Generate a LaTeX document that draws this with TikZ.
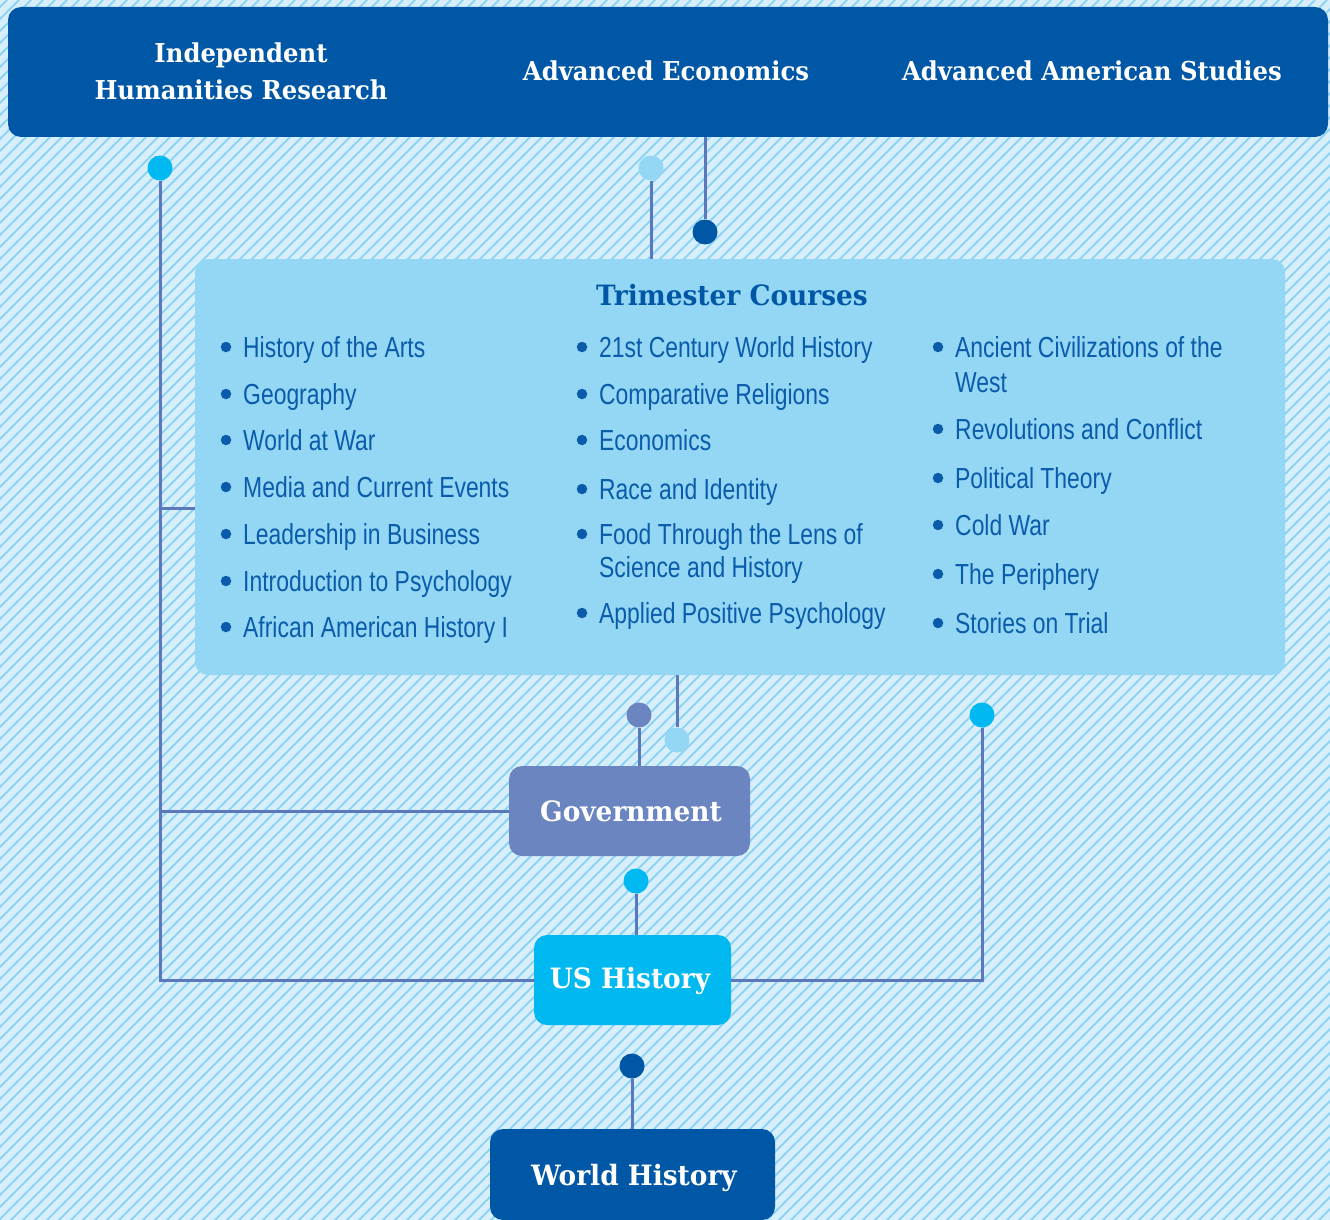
\documentclass[tikz,border=0pt]{standalone}
\usepackage{fontspec}
\newfontfamily\itemfont[FakeStretch=0.79]{Liberation Sans}
\newfontfamily\headfont[FakeStretch=0.935]{DejaVu Serif}
\newfontfamily\bigheadfont[FakeStretch=0.943]{DejaVu Serif}
\definecolor{bgc}{HTML}{D7EFFB}
\definecolor{hatch}{HTML}{8FD3F3}
\definecolor{dkblue}{HTML}{0057A6}
\definecolor{ltblue}{HTML}{93D7F5}
\definecolor{cyanb}{HTML}{00B9F0}
\definecolor{govc}{HTML}{6B85C1}
\definecolor{linec}{HTML}{5B78BD}
\definecolor{txtc}{HTML}{0A5BAA}
\tikzset{
  box/.style={rounded corners=13pt, inner sep=0pt},
  head/.style={font=\headfont\bfseries\fontsize{26}{37}\selectfont, text=white, align=center, inner sep=0pt},
  bighead/.style={head, font=\bigheadfont\bfseries\fontsize{28}{37}\selectfont},
  item/.style={font=\itemfont\fontsize{29}{35}\selectfont, text=txtc, inner sep=0pt, anchor=base west},
  dotn/.style={circle, minimum size=25pt, inner sep=0pt},
  conn/.style={draw=linec, line width=3pt},
  bul/.style={circle, fill=txtc, minimum size=10.5pt, inner sep=0pt}
}
\begin{document}
\begin{tikzpicture}[x=1pt,y=-1pt]
\useasboundingbox (0,0) rectangle (1330,1220);
\clip (0,0) rectangle (1330,1220);
\fill[bgc] (0,0) rectangle (1330,1220);
\foreach \i in {-1230,-1218,...,1340} \draw[hatch, line width=1.9pt] (\i,1225) -- (\i+1225,0);
% boxes
\node[box, fill=dkblue, minimum width=1320pt, minimum height=130pt] (top) at (668,72) {};
\node[head] (ihr) at (241,71) {Independent\\Humanities Research};
\node[head] (ae) at (666,71) {Advanced Economics};
\node[head] (aas) at (1092,71) {Advanced American Studies};
\node[box, fill=ltblue, minimum width=1090pt, minimum height=416pt] (tri) at (740,467) {};
\node[bighead, text=dkblue] (trit) at (732,295) {Trimester Courses};
\node[box, fill=govc, minimum width=241pt, minimum height=90pt] (gov) at (629.5,811) {};
\node[bighead] at (631,811) {Government};
\node[box, fill=cyanb, minimum width=197pt, minimum height=90pt] (us) at (632.5,980) {};
\node[bighead] at (630,981) {US History};
\node[box, fill=dkblue, minimum width=285pt, minimum height=91pt] (wh) at (632.5,1174.5) {};
\node[bighead] at (634,1178) {World History};
% dots
\node[dotn, fill=cyanb] (d1) at (160,168) {};
\node[dotn, fill=ltblue] (d2) at (651,168) {};
\node[dotn, fill=dkblue] (d3) at (705,232) {};
\node[dotn, fill=ltblue] (d4) at (677,740) {};
\node[dotn, fill=govc] (d5) at (639,715) {};
\node[dotn, fill=cyanb] (d6) at (982,715) {};
\node[dotn, fill=cyanb] (d7) at (636,881) {};
\node[dotn, fill=dkblue] (d8) at (632,1066) {};
\coordinate (jtri) at (160,508);
% connectors
\draw[conn] (d1.south) -- (d1 |- us.west) -- (us.west);
\draw[conn] (jtri) -- (jtri -| tri.west);
\draw[conn] (d1 |- gov.west) -- (gov.west);
\draw[conn] (d2.south) -- (d2 |- tri.north);
\draw[conn] (d3 |- top.south) -- (d3.north);
\draw[conn] (d4 |- tri.south) -- (d4.north);
\draw[conn] (d5.south) -- (d5 |- gov.north);
\draw[conn] (d6.south) -- (d6 |- us.east) -- (us.east);
\draw[conn] (d7.south) -- (d7 |- us.north);
\draw[conn] (d8.south) -- (d8 |- wh.north);
% column 1
\foreach \y/\t [count=\k] in {357/History of the Arts, 404/Geography, 450/World at War, 497/Media and Current Events, 544/Leadership in Business, 591/Introduction to Psychology, 637/African American History I}{
  \node[bul] (b1\k) at (226,\y-10) {};
  \node[item] (a1\k) at (243,\y) {\t};
}
% column 2
\foreach \y/\t [count=\k] in {357/21st Century World History, 404/Comparative Religions, 450/Economics, 499/Race and Identity, 544/Food Through the Lens of, 623/Applied Positive Psychology}{
  \node[bul] (b2\k) at (582,\y-10) {};
  \node[item] (a2\k) at (599,\y) {\t};
}
\node[item] (a2x) at (599,577) {Science and History};
% column 3
\foreach \y/\t [count=\k] in {357/Ancient Civilizations of the, 439/Revolutions and Conflict, 488/Political Theory, 535/Cold War, 584/The Periphery, 633/Stories on Trial}{
  \node[bul] (b3\k) at (938,\y-10) {};
  \node[item] (a3\k) at (955,\y) {\t};
}
\node[item] (a3x) at (955,392) {West};
\end{tikzpicture}
\end{document}
